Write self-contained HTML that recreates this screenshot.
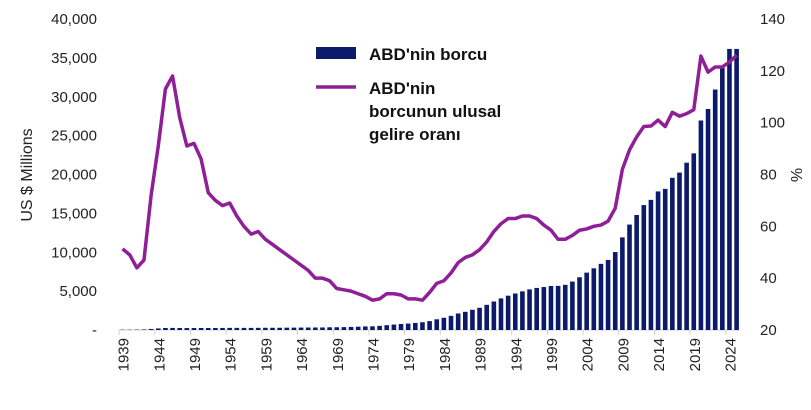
<!DOCTYPE html>
<html><head><meta charset="utf-8"><style>
body{margin:0;background:#fff;}
svg{display:block;font-family:"Liberation Sans",sans-serif;}
</style></head><body>
<svg id="c" width="811" height="410" xmlns="http://www.w3.org/2000/svg"></svg>
<script>
const debt=[40,43,49,72,137,201,259,269,258,252,253,257,255,259,266,271,274,272,270,276,285,286,289,298,306,312,317,320,326,348,354,371,398,427,458,475,533,620,699,772,827,908,998,1142,1377,1572,1823,2125,2340,2602,2857,3233,3665,4065,4411,4693,4974,5225,5413,5526,5656,5674,5807,6228,6783,7379,7933,8507,9008,10025,11910,13562,14790,16066,16738,17824,18151,19573,20245,21516,22719,26945,28429,30929,33700,36150,36150];
const ratio=[51.3,49,44,47,72,91,113,118,102,91,92,86,73,70,68,69,64,60,57,58,55,53,51,49,47,45,43,40,40,39,36,35.5,35,34,33,31.5,32,34,34,33.5,32,32,31.5,34.5,38,39,42,46,48,49,51,54,58,61,63,63,64,64,63,60.5,58.5,55,55,56.5,58.5,59,60,60.5,62,67,82,89.5,94.5,98.5,98.7,101,98.5,104,102.5,103.5,105,125.7,119.5,121.5,121.5,123.4,126];
const X0=119,W=7.14,Y0=330;
const yl=v=>Y0-v*311/40000, yr=v=>Y0-(v-20)*311/120;
let s='';
s+=`<line x1="${X0}" y1="${Y0}" x2="${X0+87*W}" y2="${Y0}" stroke="#d0d0d0" stroke-width="1"/>`;
for(let i=0;i<87;i+=5){const x=X0+i*W;s+=`<line x1="${x}" y1="${Y0}" x2="${x}" y2="${Y0+5}" stroke="#d0d0d0"/>`;
 const cx=x+W/2+1; s+=`<text x="${cx+5}" y="${Y0+8}" font-size="15" text-anchor="end" transform="rotate(-90 ${cx+5} ${Y0+8})" fill="#222">${1939+i}</text>`;}
debt.forEach((d,i)=>{const cx=X0+W/2+i*W;const y=yl(d);s+=`<rect x="${(cx-2.3).toFixed(2)}" y="${y.toFixed(2)}" width="4.6" height="${(Y0-y).toFixed(2)}" fill="#0b1a6b"/>`;});
s+=`<polyline fill="none" stroke="#8e1f96" stroke-width="3.5" stroke-linejoin="round" points="${ratio.map((r,i)=>(X0+W/2+i*W).toFixed(2)+','+yr(r).toFixed(2)).join(' ')}"/>`;
for(let v=0;v<=40000;v+=5000){const t=v?v.toLocaleString('en-US'):'-';s+=`<text x="97" y="${yl(v)+5}" font-size="15" text-anchor="end" fill="#222">${t}</text>`;}
for(let v=20;v<=140;v+=20){s+=`<text x="760" y="${yr(v)+5}" font-size="15" fill="#222">${v}</text>`;}
s+=`<text x="32" y="175" font-size="16" text-anchor="middle" transform="rotate(-90 32 175)" fill="#222">US $ Millions</text>`;
s+=`<text x="791" y="175" font-size="16" text-anchor="middle" transform="rotate(90 791 175)" fill="#222">%</text>`;
s+=`<rect x="316" y="47" width="40" height="12" fill="#0b1a6b"/>`;
s+=`<text x="369" y="60" font-size="17" font-weight="bold" fill="#111">ABD'nin borcu</text>`;
s+=`<line x1="316" y1="87" x2="356" y2="87" stroke="#8e1f96" stroke-width="3.5"/>`;
s+=`<text font-size="17" font-weight="bold" fill="#111"><tspan x="369" y="94">ABD'nin</tspan><tspan x="369" y="117">borcunun ulusal</tspan><tspan x="369" y="140">gelire oranı</tspan></text>`;
document.getElementById('c').innerHTML=s;
</script>
</body></html>
